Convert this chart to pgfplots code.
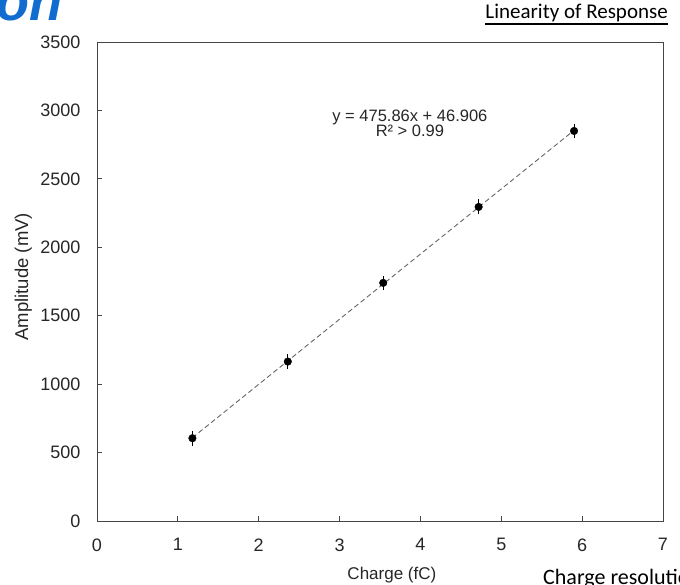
\documentclass[border=0pt]{standalone}
\usepackage{fontspec}
\setmainfont{Liberation Sans}
\newfontfamily\calibri{Carlito}
\usepackage{pgfplots}
\pgfplotsset{compat=1.18}
\usepackage{pgfplotstable}

\definecolor{logoblue}{RGB}{16,108,206}
\definecolor{frame}{RGB}{70,70,70}

% measured amplitude vs injected charge
\pgfplotstableread{
x     y     err
1.18  605   25
2.36  1165  25
3.54  1740  22
4.72  2295  25
5.90  2850  25
}\chargedata

\begin{document}
\begin{tikzpicture}[x=1pt,y=1pt]
\useasboundingbox (0,0) rectangle (680,584);
\begin{scope}
  \clip (0,0) rectangle (680,584);
  % slide decoration
  \node[anchor=base east, inner sep=0, text=logoblue,
        font=\bfseries\itshape\fontsize{54}{58}\selectfont] at (63,563) {tion};
  \node[anchor=base east, inner sep=0,
        font=\calibri\fontsize{21}{25}\selectfont] (ttl) at (668,565) {Linearity of Response};
  \draw[line width=1.3pt] ([yshift=-5pt]ttl.base west) -- ([yshift=-5pt]ttl.base east);
  \node[anchor=base west, inner sep=0,
        font=\calibri\fontsize{22}{26}\selectfont] at (543,0) {Charge resolution};
\end{scope}

\begin{axis}[
  at={(97pt,63pt)}, anchor=south west,
  scale only axis, width=566pt, height=479pt,
  xmin=0, xmax=7, ymin=0, ymax=3500,
  xtick={0,1,...,7}, ytick={0,500,...,3500},
  tick align=inside, xtick pos=bottom, ytick pos=left,
  major tick length=5pt,
  axis line style={frame, line width=0.8pt},
  tick style={frame, line width=0.8pt},
  /pgf/number format/assume math mode=true,
  /pgf/number format/set thousands separator={},
  tick label style={font=\fontsize{18}{21}\selectfont, text=black!85},
  xticklabel style={yshift=-14pt},
  yticklabel style={xshift=-13pt},
  label style={font=\fontsize{18.5}{22}\selectfont, text=black!85},
  xlabel={Charge (fC)},
  ylabel={Amplitude (mV)},
  xlabel style={font=\fontsize{17}{20}\selectfont, at={(axis description cs:0.521,-0.113)}, anchor=center},
  ylabel style={at={(axis description cs:-0.13,0.51)}, anchor=center},
  clip=false,
]
  % linear fit
  \addplot[gray!80!black, line width=0.9pt, dash pattern=on 5pt off 3pt]
    coordinates {(1.18,608.4) (5.90,2854.5)};
  \addplot[only marks, mark=*, mark size=3.8pt, black,
           error bars/.cd, y dir=both, y explicit,
           error bar style={black, line width=1pt},
           error mark options={black, line width=1pt, mark size=4pt}]
    table[x=x, y=y, y error=err] {\chargedata};
  \node[font=\fontsize{16.5}{19}\selectfont, text=black!85, align=center]
    at (axis cs:3.87,2905) {y = 475.86x + 46.906\\[-4pt] R² > 0.99};
\end{axis}
\end{tikzpicture}
\end{document}
